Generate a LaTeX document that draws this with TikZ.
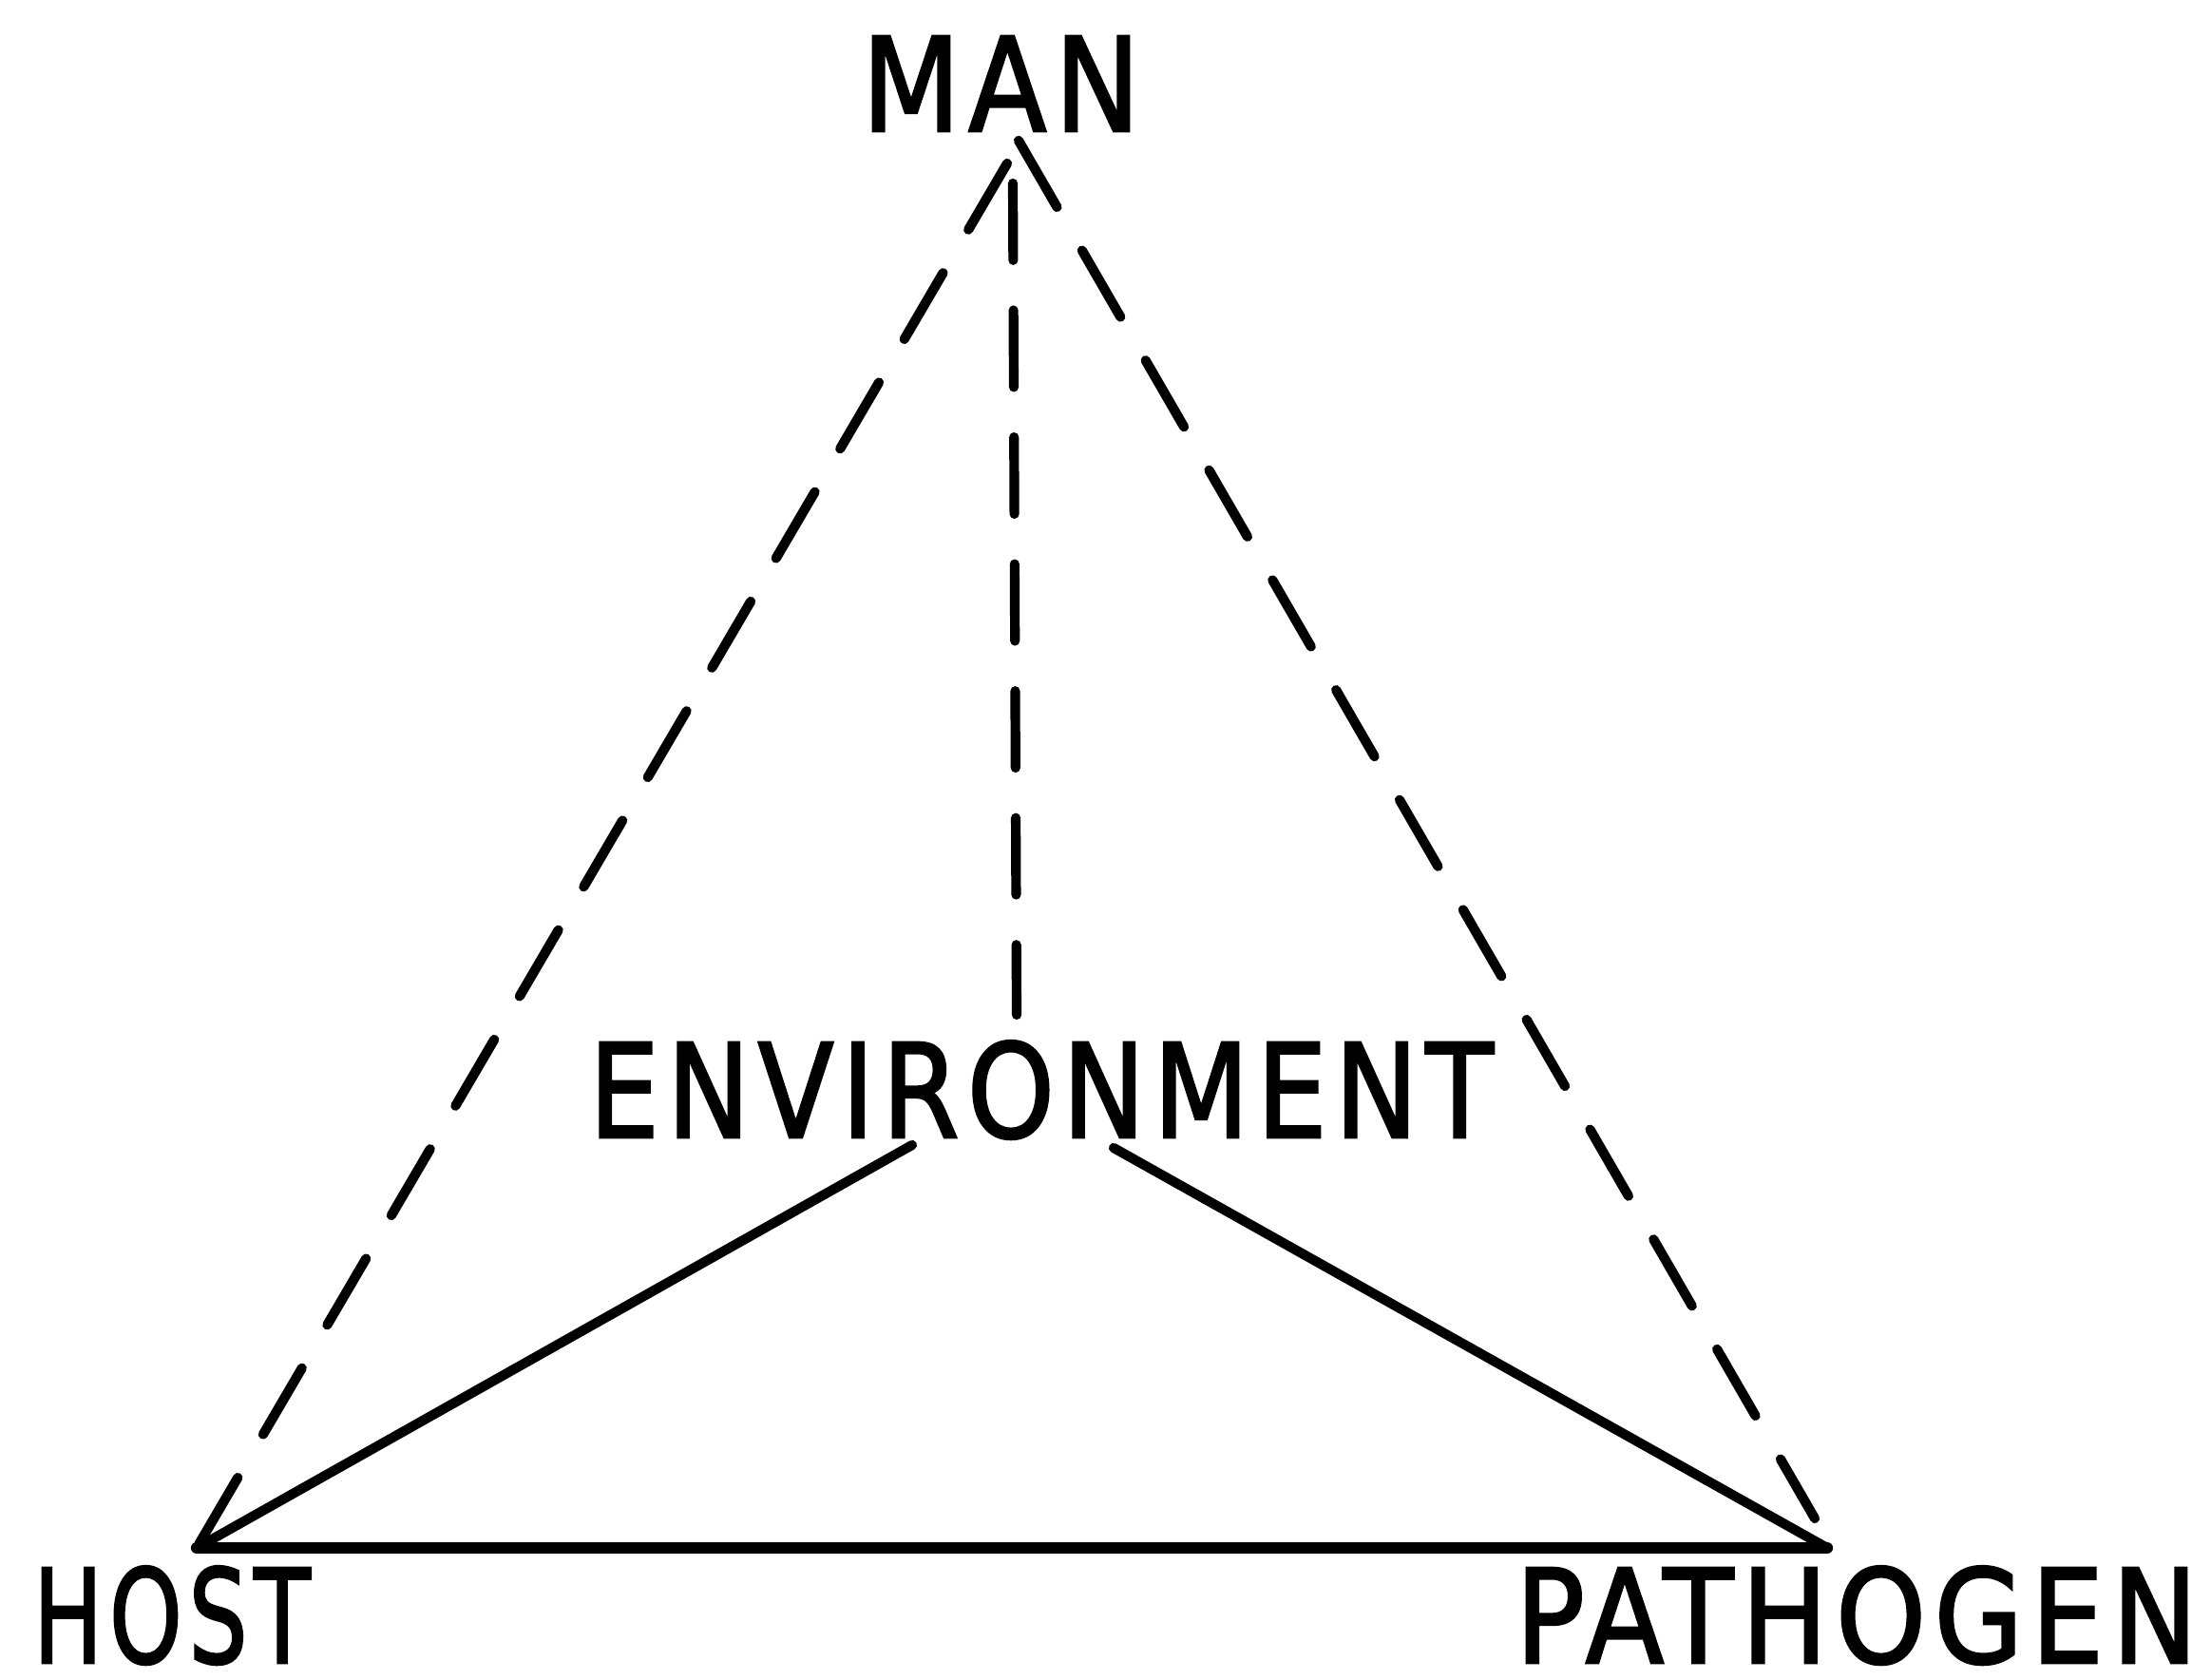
\documentclass[tikz,border=0pt]{standalone}
\usepackage{fontspec}
\setmainfont{DejaVu Sans}
\newfontfamily\lblfont{DejaVu Sans}[LetterSpace=7.0,FakeBold=2]
\usepackage{graphicx}
\usetikzlibrary{positioning}

\newcommand{\lbl}[2]{\resizebox{#1}{\height}{#2}}

\begin{document}
\begin{tikzpicture}[
    dashline/.style={black, line width=2.9pt, line cap=round, dash pattern=on 23pt off 15pt},
    solidline/.style={black, line width=2.9pt, line cap=round, line join=round},
    word/.style={inner sep=0pt, anchor=base, font=\lblfont\fontsize{39}{39}\selectfont}]
    \useasboundingbox (0,0) rectangle (23.27,17.68);
    % labels
    \node[word] (man) at (10.535,16.30) {\lbl{2.93cm}{MAN}};
    \node[word] (env) at (10.96,5.71) {\lbl{9.52cm}{ENVIRONMENT}};
    \node[word] (host) at (1.81,0.18) {\lbl{2.92cm}{HOST}};
    \node[word] (pathogen) at (19.54,0.18) {\lbl{7.18cm}{PATHOGEN}};
    % corners and line ends
    \coordinate (hostpt) at (2.07,1.39);
    \coordinate (pathpt) at (19.23,1.39);
    \coordinate (manL) at (10.60,15.96);
    \coordinate (manR) at (10.72,16.20);
    \coordinate (manC) at (10.66,15.75);
    \coordinate (envT) at (10.70,7.00);
    \coordinate (envL) at (9.60,5.63);
    \coordinate (envR) at (11.72,5.60);
    \coordinate (pathR) at (19.10,1.70);
    % solid triangle
    \draw[solidline] (envL) -- (hostpt);
    \draw[solidline] (envR) -- (pathpt);
    \draw[solidline, line width=3.5pt] (hostpt) -- (pathpt);
    % dashed links to man
    \draw[dashline] (manL) -- (hostpt);
    \draw[dashline] (manR) -- (pathR);
    \draw[dashline] (manC) -- (envT);
\end{tikzpicture}
\end{document}
